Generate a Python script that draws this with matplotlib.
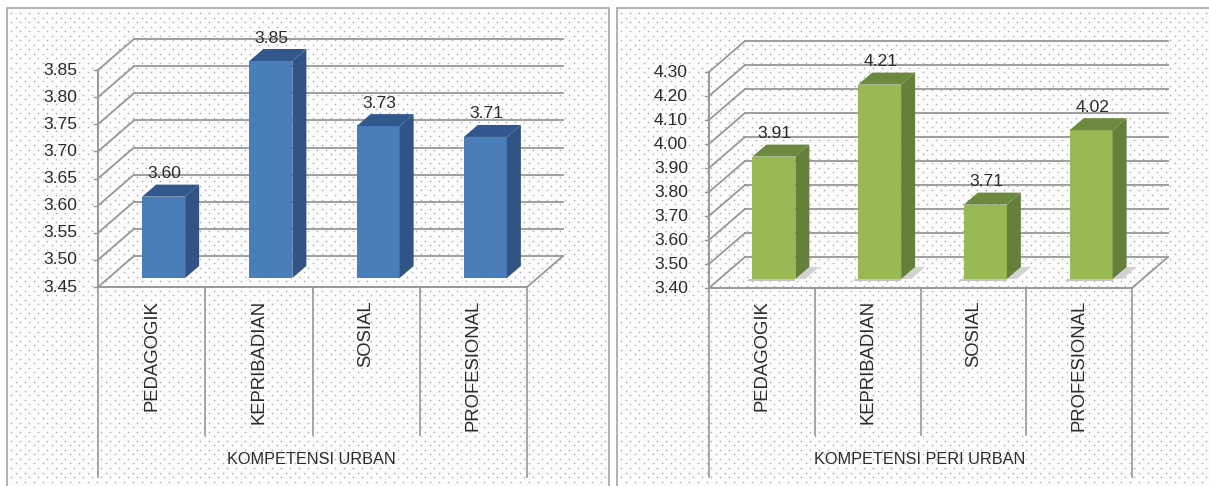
import numpy as np
import matplotlib
matplotlib.use('Agg')
import matplotlib.pyplot as plt
from matplotlib.patches import Polygon, Rectangle
from matplotlib.transforms import IdentityTransform, offset_copy

plt.rcParams['font.family'] = ['Liberation Sans', 'DejaVu Sans']

# Data
categories = ['PEDAGOGIK', 'KEPRIBADIAN', 'SOSIAL', 'PROFESIONAL']
urban = [3.60, 3.85, 3.73, 3.71]
peri_urban = [3.91, 4.21, 3.71, 4.02]
urban_ticks = [3.45, 3.50, 3.55, 3.60, 3.65, 3.70, 3.75, 3.80, 3.85]
peri_ticks = [3.40, 3.50, 3.60, 3.70, 3.80, 3.90, 4.00, 4.10, 4.20, 4.30]

W, H = 1209, 486
GRID = '#989898'
TEXT = '#2b2b2b'

fig = plt.figure(figsize=(W / 100, H / 100), dpi=100, facecolor='white')

# dotted chart background, one dot layer per panel
bg = fig.add_axes([0, 0, 1, 1], zorder=0)
bg.set_xlim(0, W)
bg.set_ylim(H, 0)
bg.axis('off')


def panel_back(x0, x1, y0):
    bg.add_patch(Rectangle((x0, y0), x1 - x0, H - y0 + 2, fc='#fcfcfc', ec='#9c9c9c', lw=1.1))
    xs, ys = [], []
    for i, y in enumerate(np.arange(y0 + 5, H, 4.55)):
        start = x0 + 4 + (i % 2) * 4.5
        row = np.arange(start, x1 - 1, 9.0)
        xs.extend(row)
        ys.extend([y] * len(row))
    bg.scatter(xs, ys, s=1.3, c='#ababab', linewidths=0, zorder=1)


panel_back(7, 609, 8)
panel_back(617, 1212, 8)


def to_frac(x0, x1, y_top, y_bot):
    return [x0 / W, 1 - y_bot / H, (x1 - x0) / W, (y_bot - y_top) / H]


def draw_panel(rect, values, ticks, face, side, top, title, shadow):
    x0, x1, y_top, y_bot = rect
    ax = fig.add_axes(to_frac(x0, x1, y_top, y_bot), zorder=1)
    ax.patch.set_alpha(0)
    ax.set_xlim(0, len(values))
    ax.set_ylim(ticks[0], ticks[-1])
    ax.axis('off')

    # back wall is shifted up and to the right of the front plane
    back_dx, back_dy = 36, 31
    bar_dx, bar_dy = 12, 9
    depth_dx, depth_dy = 14, 12

    back = offset_copy(ax.transData, fig, x=back_dx, y=back_dy, units='dots')
    n = len(values)
    for t in ticks:
        ax.plot([0, n], [t, t], transform=back, color=GRID, lw=1.3, clip_on=False, zorder=1)
        p0 = ax.transData.transform((0, t))
        ax.plot([p0[0], p0[0] + back_dx], [p0[1], p0[1] + back_dy], transform=IdentityTransform(),
                color=GRID, lw=1.3, clip_on=False, zorder=1)
        ax.plot([p0[0] - 4, p0[0]], [p0[1], p0[1]], transform=IdentityTransform(),
                color=GRID, lw=1.0, clip_on=False, zorder=1)
        ax.text(p0[0] - 21, p0[1], f'{t:.2f}', ha='right', va='center', fontsize=12.6, color=TEXT,
                transform=IdentityTransform(), clip_on=False)

    # floor and axis lines
    pr = ax.transData.transform((n, ticks[0]))
    ax.plot([pr[0], pr[0] + back_dx], [pr[1], pr[1] + back_dy], transform=IdentityTransform(),
            color=GRID, lw=1.3, clip_on=False, zorder=1)
    ax.plot([0, n], [ticks[0], ticks[0]], color=GRID, lw=1.4, clip_on=False, zorder=1)
    ax.plot([0, 0], [ticks[0], ticks[-1]], color=GRID, lw=1.4, clip_on=False, zorder=1)

    # bars: front face through the axes, side and top faces from the same values
    width = 43 / ((x1 - x0) / n)
    pos = np.arange(n) + 0.5
    front = offset_copy(ax.transData, fig, x=bar_dx, y=bar_dy, units='dots')
    ax.bar(pos, np.array(values) - ticks[0], bottom=ticks[0], width=width, color=face,
           transform=front, clip_on=False, zorder=3)
    for p, v in zip(pos, values):
        a = front.transform((p - width / 2, v))
        b = front.transform((p + width / 2, v))
        c = front.transform((p + width / 2, ticks[0]))
        e = front.transform((p - width / 2, ticks[0]))
        d = np.array([depth_dx, depth_dy])
        ax.add_patch(Polygon([b, c, c + d, b + d], fc=side, ec='none', transform=IdentityTransform(),
                             clip_on=False, zorder=3))
        ax.add_patch(Polygon([a, b, b + d, a + d], fc=top, ec='none', transform=IdentityTransform(),
                             clip_on=False, zorder=3))
        if shadow:
            # soft floor shadow to the right of and under the bar
            ax.add_patch(Polygon([c, c + d, c + d + np.array([10, 0]), c + np.array([10, 0])],
                                 fc='#d2d2d2', ec='none', transform=IdentityTransform(),
                                 clip_on=False, zorder=2))
            ax.add_patch(Polygon([e + np.array([-3, 0]), c, c + np.array([0, -2]), e + np.array([-5, -2])],
                                 fc='#c4c4c4', ec='none', transform=IdentityTransform(),
                                 clip_on=False, zorder=2))
        ax.text((a[0] + b[0]) / 2 + 1, a[1] + depth_dy + 11, f'{v:.2f}', ha='center', va='center',
                fontsize=12.6, color=TEXT, transform=IdentityTransform(), clip_on=False, zorder=4)

    # category table below the floor
    px = (x1 - x0) / n
    bg.plot([x0, x0], [y_bot, 477], color=GRID, lw=1.2)
    bg.plot([x1, x1], [y_bot, 477], color=GRID, lw=1.2)
    for i in range(1, n):
        bg.plot([x0 + i * px] * 2, [y_bot, 435], color=GRID, lw=1.2)
    for i, name in enumerate(categories):
        bg.text(x0 + (i + 0.5) * px, 300, name, rotation=90, ha='center', va='top',
                fontsize=13.3, color=TEXT, zorder=4)
    bg.text((x0 + x1) / 2 - 1, 459, title, ha='center', va='center', fontsize=11.7, color=TEXT, zorder=4)


draw_panel((98, 527, 70, 287), urban, urban_ticks, '#4a7ebb', '#2f5485', '#30588c',
           'KOMPETENSI URBAN', False)
draw_panel((709, 1132, 72, 288), peri_urban, peri_ticks, '#98b954', '#64803a', '#6b8a3d',
           'KOMPETENSI PERI URBAN', True)

fig.savefig('out.png', dpi=100)
